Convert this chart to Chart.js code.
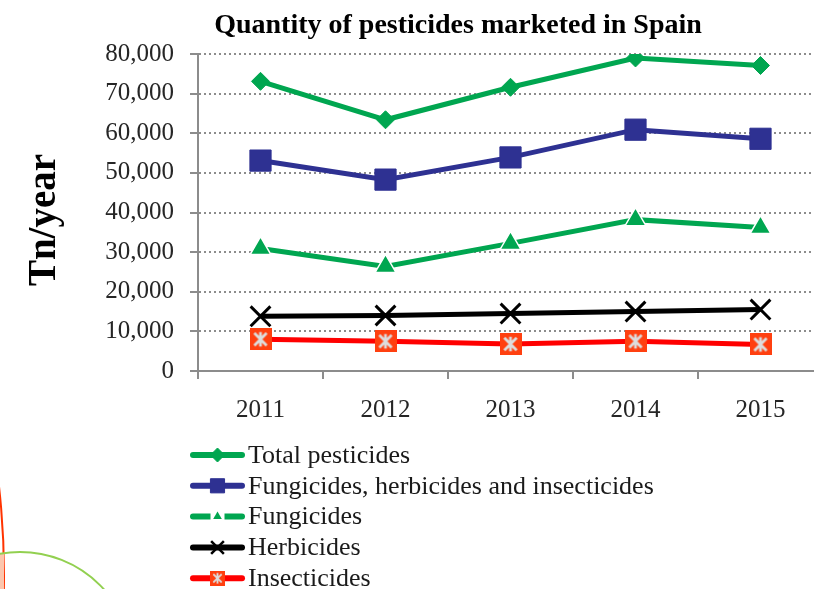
<!DOCTYPE html>
<html>
<head>
<meta charset="utf-8">
<script src="https://cdn.jsdelivr.net/npm/chart.js@4"></script>
<style>
    html, body { margin: 0; padding: 0; background: #fff; overflow: hidden; }
    #wrap { position: relative; width: 814px; height: 589px; overflow: hidden; }
    #chart { position: absolute; left: 0; top: 0; }
    .deco { position: absolute; border-radius: 50%; box-sizing: border-box; }
</style>
</head>
<body>
<div id="wrap">
    <div class="deco" style="left:-1535px; top:-195px; width:1540px; height:1540px; border:2px solid #ff3300;"></div>
    <div style="position:absolute; left:0; top:553px; width:4px; height:36px; background:#fcc6ad;"></div>
    <div class="deco" style="left:-94px; top:551px; width:228px; height:228px; border:2px solid #92d050;"></div>
    <canvas id="chart" width="840" height="589"></canvas>
</div>
<script>
// data
const years = ["2011", "2012", "2013", "2014", "2015"];
const totalPesticides = [73100, 63400, 71600, 79000, 77100];
const fungHerbInsect = [53100, 48300, 53900, 60900, 58600];
const fungicides = [30900, 26400, 32200, 38200, 36200];
const herbicides = [13800, 14000, 14500, 15000, 15500];
const insecticides = [8000, 7500, 6800, 7500, 6700];
const seriesNames = [
    "Total pesticides",
    "Fungicides, herbicides and insecticides",
    "Fungicides",
    "Herbicides",
    "Insecticides",
];
const chartTitle = "Quantity of pesticides marketed in Spain";
const yTitle = "Tn/year";
const yMin = 0;
const yMax = 80000;
const yStep = 10000;

const serif = "'Liberation Serif', 'DejaVu Serif', serif";
const green = "#00a650";
const blue = "#2e3192";
const red = "#ff0000";

// orange square with a grey asterisk, used as the insecticides marker
function makeStar(size) {
    const c = document.createElement("canvas");
    c.width = size;
    c.height = size;
    const g = c.getContext("2d");
    g.fillStyle = "#ff4010";
    g.fillRect(0, 0, size, size);
    g.strokeStyle = "#dddddd";
    g.lineWidth = size / 8;
    const m = size * 0.22;
    g.beginPath();
    g.moveTo(size / 2, m - 1); g.lineTo(size / 2, size - m + 1);
    g.moveTo(m, m); g.lineTo(size - m, size - m);
    g.moveTo(size - m, m); g.lineTo(m, size - m);
    g.stroke();
    return c;
}
const starBig = makeStar(22);
const starSmall = makeStar(15);

// titles and legend drawn by hand: in the original they sit off-centre
const titleAndLegend = {
    id: "titleAndLegend",
    afterDraw(chart) {
        const ctx = chart.ctx;
        ctx.save();
        ctx.fillStyle = "#000";
        ctx.font = "bold 28px " + serif;
        ctx.textAlign = "center";
        ctx.textBaseline = "alphabetic";
        ctx.fillText(chartTitle, 458, 33);

        ctx.translate(45, 220);
        ctx.rotate(-Math.PI / 2);
        ctx.font = "bold 39px " + serif;
        ctx.textBaseline = "middle";
        ctx.fillText(yTitle, 0, 0);
        ctx.restore();

        const x0 = 190, x1 = 245, top = 455, step = 30.8;
        chart.data.datasets.forEach((ds, i) => {
            const y = top + i * step;
            ctx.save();
            ctx.strokeStyle = ds.borderColor;
            ctx.lineWidth = 6;
            ctx.lineCap = "round";
            ctx.beginPath();
            ctx.moveTo(x0 + 3, y);
            ctx.lineTo(x1 - 3, y);
            ctx.stroke();
            const cx = (x0 + x1) / 2;
            if (ds.pointStyle instanceof HTMLCanvasElement) {
                ctx.drawImage(starSmall, cx - 7.5, y - 7.5, 15, 15);
            } else {
                if (ds.pointStyle === "triangle") {
                    ctx.fillStyle = "#fff";
                    ctx.fillRect(cx - 7, y - 5, 14, 10);
                }
                ctx.fillStyle = ds.pointBackgroundColor;
                ctx.strokeStyle = ds.pointBorderColor;
                ctx.lineWidth = ds.legendBorder;
                ctx.lineCap = "butt";
                Chart.helpers.drawPoint(ctx, {
                    pointStyle: ds.pointStyle,
                    radius: ds.legendRadius,
                    borderWidth: ds.legendBorder,
                    rotation: 0,
                }, cx, y);
            }
            ctx.fillStyle = "#1a1a1a";
            ctx.font = "26px " + serif;
            ctx.textBaseline = "middle";
            ctx.textAlign = "left";
            ctx.fillText(ds.label, x1 + 3, y + 1);
            ctx.restore();
        });
    },
};

new Chart(document.getElementById("chart"), {
    type: "line",
    data: {
        labels: years,
        datasets: [
            {
                label: seriesNames[0],
                data: totalPesticides,
                borderColor: green,
                pointBackgroundColor: green,
                pointBorderColor: green,
                pointBorderWidth: 1,
                pointStyle: "rectRot",
                pointRadius: 9,
                legendRadius: 7,
                legendBorder: 1,
            },
            {
                label: seriesNames[1],
                data: fungHerbInsect,
                borderColor: blue,
                pointBackgroundColor: blue,
                pointBorderColor: blue,
                pointBorderWidth: 1,
                pointStyle: "rect",
                pointRadius: 15,
                legendRadius: 10,
                legendBorder: 1,
            },
            {
                label: seriesNames[2],
                data: fungicides,
                borderColor: green,
                pointBackgroundColor: green,
                pointBorderColor: "#ffffff",
                pointBorderWidth: 1.5,
                pointStyle: "triangle",
                pointRadius: 12,
                legendRadius: 5,
                legendBorder: 0,
            },
            {
                label: seriesNames[3],
                data: herbicides,
                borderColor: "#000000",
                pointBackgroundColor: "#000000",
                pointBorderColor: "#000000",
                pointBorderWidth: 3,
                pointStyle: "crossRot",
                pointRadius: 14,
                legendRadius: 9,
                legendBorder: 2.5,
            },
            {
                label: seriesNames[4],
                data: insecticides,
                borderColor: red,
                pointBackgroundColor: red,
                pointBorderColor: red,
                pointBorderWidth: 0,
                pointStyle: starBig,
                pointRadius: 11,
                legendRadius: 7,
                legendBorder: 0,
            },
        ],
    },
    options: {
        responsive: false,
        animation: false,
        devicePixelRatio: 1,
        layout: { padding: { left: 0, right: 7, top: 54, bottom: 0 } },
        elements: {
            line: { borderWidth: 5, tension: 0 },
        },
        plugins: {
            legend: { display: false },
            tooltip: { enabled: false },
            title: { display: false },
        },
        scales: {
            x: {
                offset: true,
                afterFit(scale) { scale.height = 218; },
                grid: {
                    offset: true,
                    drawOnChartArea: false,
                    drawTicks: true,
                    tickLength: 8,
                    color: "#8c8c8c",
                    lineWidth: 2,
                },
                border: { display: true, color: "#8c8c8c", width: 2 },
                ticks: {
                    color: "#262626",
                    padding: 16,
                    font: { family: serif, size: 25 },
                },
            },
            y: {
                min: yMin,
                max: yMax,
                afterFit(scale) { scale.width = 198; },
                grid: {
                    color: "#8c8c8c",
                    lineWidth: 2,
                    tickLength: 8,
                    tickColor: "#8c8c8c",
                    tickWidth: 2,
                },
                border: { display: true, color: "#8c8c8c", width: 2, dash: [2, 3] },
                ticks: {
                    stepSize: yStep,
                    color: "#262626",
                    padding: 16,
                    font: { family: serif, size: 25 },
                    callback: (v) => v.toLocaleString("en-US"),
                },
            },
        },
    },
    plugins: [titleAndLegend],
});
</script>
</body>
</html>
